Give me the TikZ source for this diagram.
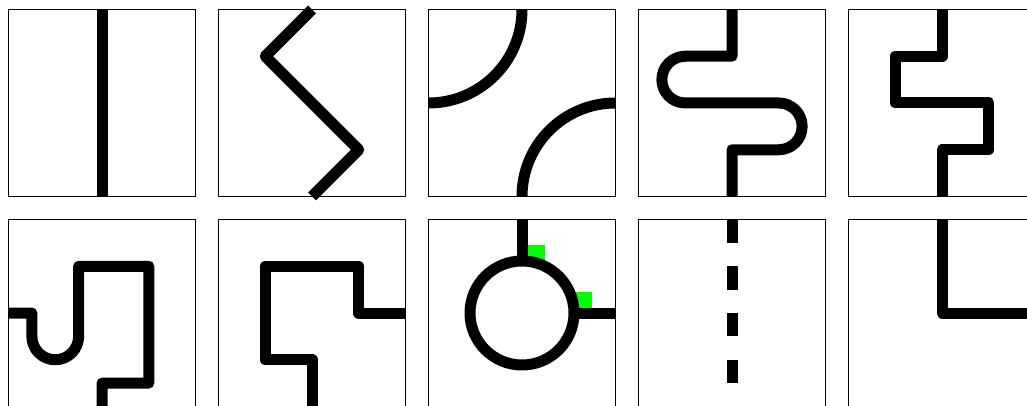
\documentclass[tikz,border=0pt]{standalone}
\usetikzlibrary{calc}
\definecolor{cmark}{HTML}{00FF00}
\tikzset{
  tile/.style={draw=black, line width=1.5pt},
  track/.style={draw=black, line width=11pt, line join=round},
  dashtrack/.style={track, dash pattern=on 23.375pt off 23.375pt},
  marker/.style={fill=cmark},
}

\begin{document}
\begin{tikzpicture}[x=1pt, y=1pt]
  \useasboundingbox (0,0) rectangle (1027,405);
  \clip (0,0) rectangle (1027,405);
  \foreach \i in {0,...,4} {
    \draw[tile] (8.5+210*\i,208.5) rectangle ++(187,187);
    \draw[tile] (8.5+210*\i,-1.5) rectangle ++(187,187);
  }
  % top row
  \begin{scope}[shift={(8.5,208.5)}]
    \draw[track] (93.5,187) -- (93.5,0);
  \end{scope}
  \begin{scope}[shift={(218.5,208.5)}]
    \draw[track] (93.5,187) -- (46.75,140.25) -- (140.25,46.75) -- (93.5,0);
  \end{scope}
  \begin{scope}[shift={(428.5,208.5)}]
    \draw[track] (93.5,187) arc[start angle=0, end angle=-90, radius=93.5pt];
    \draw[track] (93.5,0) arc[start angle=180, end angle=90, radius=93.5pt];
  \end{scope}
  \begin{scope}[shift={(638.5,208.5)}]
    \draw[track] (93.5,187) -- (93.5,140.25) -- (46.75,140.25)
      arc[start angle=90, end angle=270, radius=23.375pt] -- (140.25,93.5)
      arc[start angle=90, end angle=-90, radius=23.375pt] -- (93.5,46.75) -- (93.5,0);
  \end{scope}
  \begin{scope}[shift={(848.5,208.5)}]
    \draw[track] (93.5,187) -- (93.5,140.25) -- (46.75,140.25) -- (46.75,93.5)
      -- (140.25,93.5) -- (140.25,46.75) -- (93.5,46.75) -- (93.5,0);
  \end{scope}
  % bottom row
  \begin{scope}[shift={(8.5,-1.5)}]
    \draw[track] (0,93.5) -- (23.375,93.5) -- (23.375,70.125)
      arc[start angle=180, end angle=360, radius=23.375pt] -- (70.125,140.25)
      -- (140.25,140.25) -- (140.25,23.375) -- (93.5,23.375) -- (93.5,0);
  \end{scope}
  \begin{scope}[shift={(218.5,-1.5)}]
    \draw[track] (187,93.5) -- (140.25,93.5) -- (140.25,140.25) -- (46.75,140.25)
      -- (46.75,46.75) -- (93.5,46.75) -- (93.5,0);
  \end{scope}
  \begin{scope}[shift={(428.5,-1.5)}]
    \fill[marker] (95.6,140.25) rectangle (116.875,161.5);
    \fill[marker] (142.3,93.5) rectangle (163.625,114.8);
    \draw[track] (93.5,187) -- (93.5,145.5);
    \draw[track] (93.5,93.5) circle[radius=52pt];
    \draw[track] (145.5,93.5) -- (187,93.5);
  \end{scope}
  \begin{scope}[shift={(638.5,-1.5)}]
    \draw[dashtrack] (93.5,187) -- (93.5,0);
  \end{scope}
  \begin{scope}[shift={(848.5,-1.5)}]
    \draw[track] (93.5,187) -- (93.5,93.5) -- (187,93.5);
  \end{scope}
\end{tikzpicture}
\end{document}
